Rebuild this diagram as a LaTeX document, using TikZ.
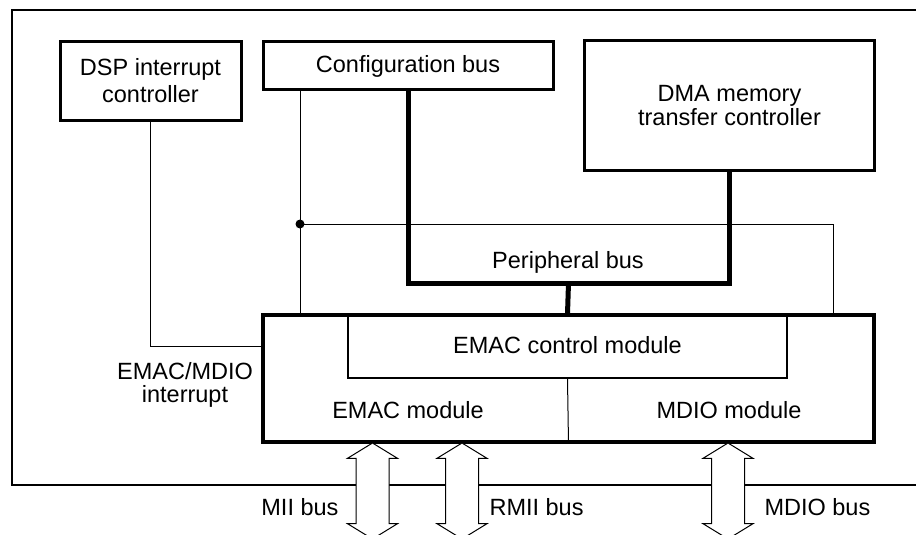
\documentclass[tikz,border=0pt]{standalone}
\usepackage{fontspec}
\setmainfont{Liberation Sans}
\usetikzlibrary{shapes.arrows}
\begin{document}
\begin{tikzpicture}[x=1pt,y=-1pt,
    every node/.style={font=\fontsize{23.5}{26}\selectfont},
    blk/.style={draw,line width=3pt,align=center,inner sep=0pt},
    wire/.style={line width=1pt},
    bus/.style={line width=5pt},
    busarrow/.style={draw,line width=1pt,fill=white,shape=double arrow,rotate=90,
        inner xsep=0pt,inner ysep=16pt,minimum height=96pt,minimum width=49pt,
        double arrow head extend=8.5pt,double arrow head indent=0pt,
        double arrow tip angle=117}]
    \useasboundingbox (0,0) rectangle (916,535);
    \draw[line width=2pt] (12,10) rectangle (922,485);

    % boxes
    \node[blk,minimum width=181pt,minimum height=79pt] (dsp) at (150.5,81)
        {DSP interrupt\\[1pt]controller};
    \node[blk,minimum width=290pt,minimum height=48pt] (cfg) at (408,66)
        {Configuration bus};
    \node[blk,minimum width=290pt,minimum height=129pt] (dma) at (729.5,105.5)
        {DMA memory\\[-2.5pt]transfer controller};
    \node[blk,line width=3.5pt,minimum width=611pt,minimum height=127pt] (emac)
        at (568.5,378.5) {};
    \node[draw,line width=2pt,minimum width=439pt,minimum height=63pt] (ctrl)
        at (567.5,346.5) {};

    % texts
    \node[anchor=base] (ctrltxt) at (567.5,353) {EMAC control module};
    \node[anchor=base] (emactxt) at (408,418) {EMAC module};
    \node[anchor=base] (mdiotxt) at (729,418) {MDIO module};
    \node[anchor=base] (pbustxt) at (568,268) {Peripheral bus};
    \node[align=center] (irqtxt) at (185,384.5) {EMAC/MDIO\\[-3pt]interrupt};

    % wires
    \coordinate (dot) at (300,224);
    \coordinate (irq) at (emac.west |- 0,346);
    \draw[wire] (dsp.south) |- (irq);
    \draw[wire] (cfg.south -| dot) -- (emac.north -| dot);
    \draw[wire] (dot) -| (emac.north -| 833,0);
    \fill (dot) circle (4.5);
    \draw[wire] (ctrl.south) -- (emac.south);

    % peripheral bus
    \coordinate (pjoin) at (568.5,283);
    \draw[bus] (cfg.south) |- (pjoin) -| (dma.south);
    \draw[bus] (pjoin) -- (ctrl.north);

    % external buses
    \node[busarrow] (mii) at (372.5,491) {};
    \node[busarrow] (rmii) at (462,491) {};
    \node[busarrow] (mdio) at (728,491) {};
    \node[anchor=base east] (miitxt) at (342,515) {MII bus};
    \node[anchor=base west] (rmiitxt) at (486,515) {RMII bus};
    \node[anchor=base west] (mdiotxtb) at (761,515) {MDIO bus};
\end{tikzpicture}
\end{document}
